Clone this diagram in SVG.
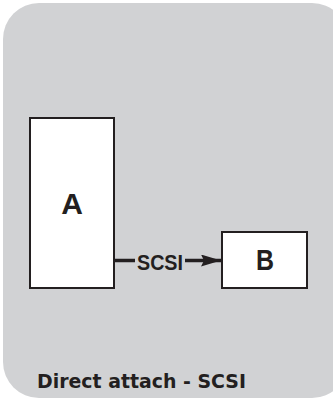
<svg xmlns="http://www.w3.org/2000/svg" width="333" height="400" viewBox="0 0 333 400">
<style>
.bg{fill:#d1d2d4}
.box{fill:#fff;stroke:#231f20;stroke-width:2}
.lbl{font-family:"Liberation Sans",Arial,sans-serif;font-weight:bold;fill:#231f20}
.ttl{font-family:"DejaVu Sans",sans-serif;font-weight:bold;fill:#231f20}
.conn{stroke:#231f20;stroke-width:3.5;fill:none}
</style>
<defs>
<marker id="ah" markerWidth="20" markerHeight="12" refX="20" refY="6" orient="auto" markerUnits="userSpaceOnUse" viewBox="0 0 20 12">
<path d="M0,0 L20,6 L0,12 L3,6 Z" fill="#231f20"/>
</marker>
</defs>
<rect class="bg" x="3" y="3" width="345" height="395" rx="36" ry="36"/>
<g id="nodeA">
<rect class="box" x="30" y="118" width="84" height="170"/>
<text class="lbl" x="72" y="214" font-size="30" text-anchor="middle">A</text>
</g>
<g id="nodeB">
<rect class="box" x="222" y="232" width="85" height="56"/>
<text class="lbl" x="265" y="270" font-size="30" text-anchor="middle" textLength="18" lengthAdjust="spacingAndGlyphs">B</text>
</g>
<g id="connectors">
<line class="conn" x1="114" y1="260.5" x2="135" y2="260.5"/>
<line class="conn" x1="185" y1="260.5" x2="221" y2="260.5" marker-end="url(#ah)"/>
<text class="lbl" x="137" y="269.5" font-size="22" textLength="46" lengthAdjust="spacingAndGlyphs">SCSI</text>
</g>
<text class="ttl" x="37" y="388" font-size="19" textLength="209" lengthAdjust="spacingAndGlyphs">Direct attach - SCSI</text>
</svg>
